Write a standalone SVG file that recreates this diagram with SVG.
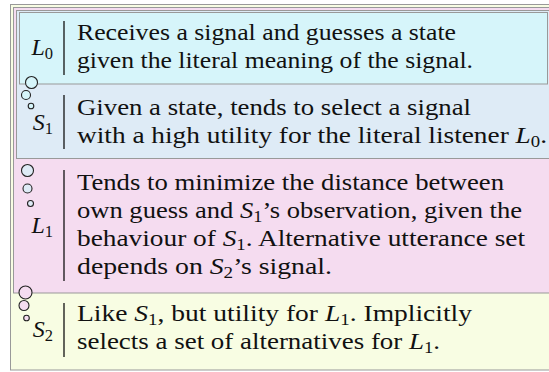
<svg xmlns="http://www.w3.org/2000/svg" width="549" height="372" viewBox="0 0 549 372">
<style>
.t{font-family:"Liberation Serif","Times New Roman",serif;font-size:24px;fill:#111}
.lab{font-family:"Liberation Serif","Times New Roman",serif;font-size:24px;font-style:italic;fill:#111;text-anchor:end}
.m{font-style:italic}
.s{font-size:16.5px;font-style:normal}
.bar{stroke:#111;stroke-width:1.3}
.box{stroke:#999;stroke-width:1}
.bub{stroke:#222;stroke-width:1.1}
</style>
<rect width="549" height="372" fill="#fff"/>
<g id="node-S2">
<rect class="box" x="10.5" y="4.5" width="560" height="365.5" fill="#f8fde3"/>
</g>
<g id="node-L1">
<rect class="box" x="13.5" y="7.5" width="554" height="285.5" fill="#f5dcf0"/>
</g>
<g id="node-S1">
<rect class="box" x="16.5" y="10.5" width="548" height="148" fill="#deebf6"/>
</g>
<g id="node-L0">
<rect class="box" x="19.5" y="12.5" width="528" height="71.5" fill="#d6f5fa"/>
</g>
<g id="connectors">
<circle class="bub" cx="31.5" cy="82.5" r="6" fill="#d6f5fa"/>
<circle class="bub" cx="26" cy="95" r="4.5" fill="#d6f5fa"/>
<circle class="bub" cx="31" cy="106" r="2.8" fill="#d6f5fa"/>
<circle class="bub" cx="27.5" cy="170.5" r="6" fill="#deebf6"/>
<circle class="bub" cx="27.5" cy="188.5" r="4.5" fill="#deebf6"/>
<circle class="bub" cx="30.5" cy="203.5" r="3" fill="#deebf6"/>
<circle class="bub" cx="25.5" cy="292.5" r="6.5" fill="#f5dcf0"/>
<circle class="bub" cx="24" cy="305.5" r="5" fill="#f5dcf0"/>
<circle class="bub" cx="26.5" cy="318" r="2.8" fill="#f5dcf0"/>
</g>
<g id="text-L0">
<text class="lab" x="53" y="55">L<tspan class="s" dy="4">0</tspan></text>
<line class="bar" x1="64" y1="21" x2="64" y2="75"/>
<text class="t" x="77" y="40" textLength="379" lengthAdjust="spacingAndGlyphs">Receives a signal and guesses a state</text>
<text class="t" x="77" y="68" textLength="396" lengthAdjust="spacingAndGlyphs">given the literal meaning of the signal.</text>
</g>
<g id="text-S1">
<text class="lab" x="53" y="129.5">S<tspan class="s" dy="4">1</tspan></text>
<line class="bar" x1="64" y1="95" x2="64" y2="149"/>
<text class="t" x="77" y="114.5" textLength="394" lengthAdjust="spacingAndGlyphs">Given a state, tends to select a signal</text>
<text class="t" x="77" y="142.5" textLength="470" lengthAdjust="spacingAndGlyphs">with a high utility for the literal listener <tspan class="m">L</tspan><tspan class="s" dy="4">0</tspan><tspan dy="-4">.</tspan></text>
</g>
<g id="text-L1">
<text class="lab" x="53" y="233">L<tspan class="s" dy="4">1</tspan></text>
<line class="bar" x1="64" y1="170" x2="64" y2="281"/>
<text class="t" x="77" y="189.5" textLength="427" lengthAdjust="spacingAndGlyphs">Tends to minimize the distance between</text>
<text class="t" x="77" y="217.5" textLength="445" lengthAdjust="spacingAndGlyphs">own guess and <tspan class="m">S</tspan><tspan class="s" dy="4">1</tspan><tspan dy="-4">’s observation, given the</tspan></text>
<text class="t" x="77" y="245.5" textLength="448" lengthAdjust="spacingAndGlyphs">behaviour of <tspan class="m">S</tspan><tspan class="s" dy="4">1</tspan><tspan dy="-4">. Alternative utterance set</tspan></text>
<text class="t" x="77" y="273.5" textLength="255" lengthAdjust="spacingAndGlyphs">depends on <tspan class="m">S</tspan><tspan class="s" dy="4">2</tspan><tspan dy="-4">’s signal.</tspan></text>
</g>
<g id="text-S2">
<text class="lab" x="53" y="337">S<tspan class="s" dy="4">2</tspan></text>
<line class="bar" x1="64" y1="303" x2="64" y2="357"/>
<text class="t" x="77" y="321" textLength="395" lengthAdjust="spacingAndGlyphs">Like <tspan class="m">S</tspan><tspan class="s" dy="4">1</tspan><tspan dy="-4">, but utility for </tspan><tspan class="m">L</tspan><tspan class="s" dy="4">1</tspan><tspan dy="-4">. Implicitly</tspan></text>
<text class="t" x="77" y="349" textLength="363" lengthAdjust="spacingAndGlyphs">selects a set of alternatives for <tspan class="m">L</tspan><tspan class="s" dy="4">1</tspan><tspan dy="-4">.</tspan></text>
</g>
</svg>
